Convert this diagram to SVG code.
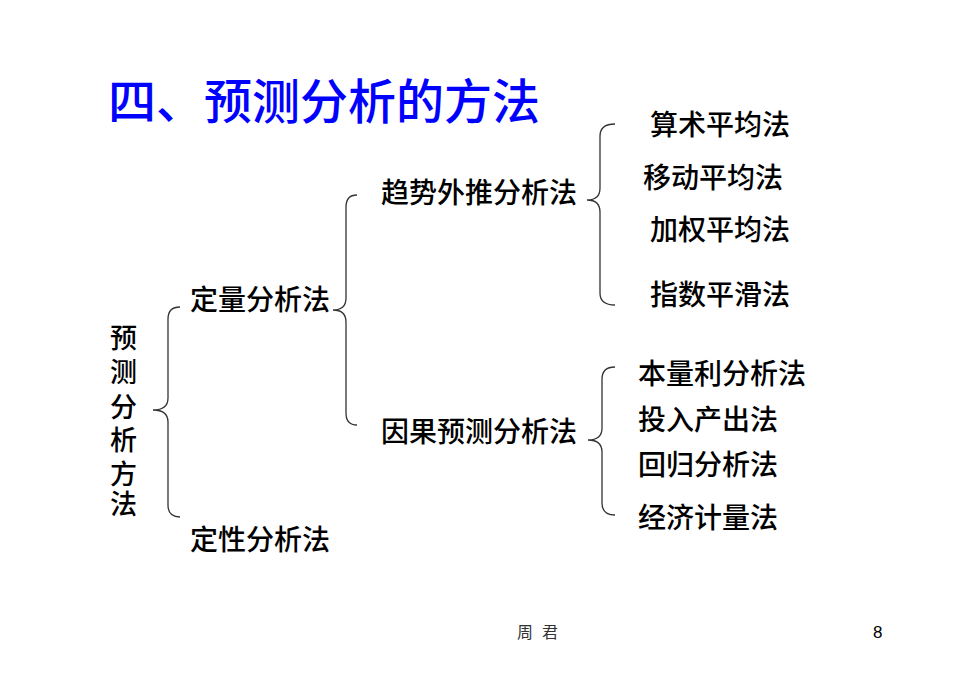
<svg xmlns="http://www.w3.org/2000/svg" width="980" height="692" viewBox="0 0 980 692">
<style>
.t{font-family:"Noto Sans CJK SC","Noto Sans",sans-serif;font-size:28px;font-weight:500;fill:#000}
.v{font-family:"Noto Sans CJK SC","Noto Sans",sans-serif;font-size:27px;font-weight:500;fill:#000}
.title{font-family:"Noto Sans CJK SC","Noto Sans",sans-serif;font-size:48px;font-weight:500;fill:#0000ff}
.b{fill:none;stroke:#333;stroke-width:1.3}
.f{font-family:"Noto Sans CJK SC",sans-serif;font-size:16px;fill:#333}
.n{font-family:"Liberation Sans",Arial,sans-serif;font-size:17px;fill:#000}
</style>
<rect width="980" height="692" fill="#fff"/>
<g id="title"><text class="title" x="108" y="119">四、预测分析的方法</text></g>
<g id="root"><text class="v" x="110" y="348">预</text><text class="v" x="110" y="382">测</text><text class="v" x="110" y="417">分</text><text class="v" x="110" y="450">析</text><text class="v" x="110" y="484">方</text><text class="v" x="110" y="514">法</text></g>
<g id="n-dl"><text class="t" x="190" y="310">定量分析法</text></g>
<g id="n-dx"><text class="t" x="190" y="550">定性分析法</text></g>
<g id="n-qs"><text class="t" x="381" y="203">趋势外推分析法</text></g>
<g id="n-yg"><text class="t" x="381" y="442">因果预测分析法</text></g>
<g id="n-qs-items">
<text class="t" x="650" y="135">算术平均法</text>
<text class="t" x="643" y="188">移动平均法</text>
<text class="t" x="650" y="240">加权平均法</text>
<text class="t" x="650" y="305">指数平滑法</text>
</g>
<g id="n-yg-items">
<text class="t" x="638" y="384">本量利分析法</text>
<text class="t" x="638" y="430">投入产出法</text>
<text class="t" x="638" y="475">回归分析法</text>
<text class="t" x="638" y="528">经济计量法</text>
</g>
<g id="connectors">
<path class="b" d="M180 307 Q168 307 168 319 L168 398 Q168 410 153 410 Q168 410 168 422 L168 505 Q168 517 180 517"/>
<path class="b" d="M357 195 Q346 195 346 207 L346 298 Q346 310 333 310 Q346 310 346 322 L346 413 Q346 425 357 425"/>
<path class="b" d="M615 124 Q600 124 600 136 L600 188 Q600 200 587 200 Q600 200 600 212 L600 293 Q600 305 615 305"/>
<path class="b" d="M615 367 Q602 367 602 379 L602 428 Q602 440 588 440 Q602 440 602 452 L602 503 Q602 515 615 515"/>
</g>
<g id="footer"><text class="f" x="517" y="638">周</text><text class="f" x="542" y="638">君</text><text class="n" x="873" y="638">8</text></g>
</svg>
